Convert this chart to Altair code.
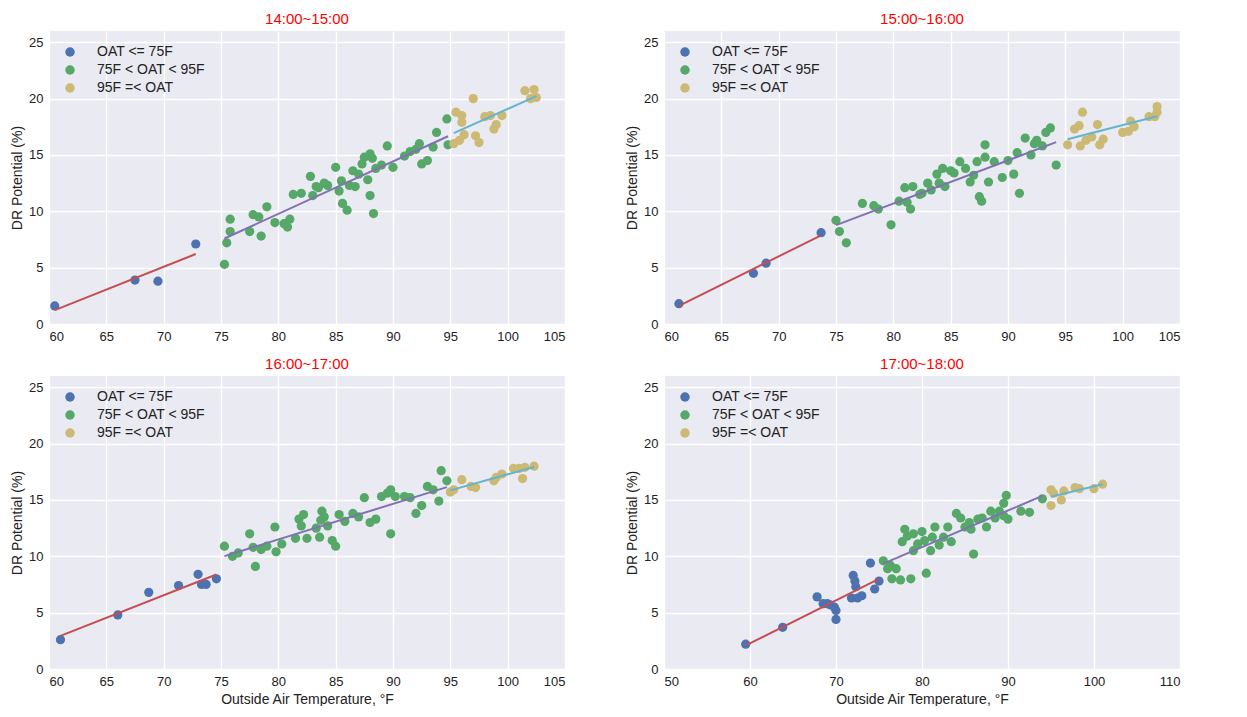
import altair as alt
import pandas as pd

groups = ["OAT <= 75F", "75F < OAT < 95F", "95F =< OAT"]
point_colors = ["#4C72B0", "#55A868", "#CCB974"]
line_colors = ["#C44E52", "#8172B2", "#64B5CD"]

# 14:00~15:00
p1_blue = [(60.5, 1.6), (67.5, 3.9), (69.5, 3.8), (72.8, 7.1)]
p1_green = [(75.3, 5.3), (75.5, 7.2), (75.8, 8.2), (75.8, 9.3), (77.5, 8.2), (77.8, 9.7), (78.3, 9.5), (78.5, 7.8),
            (79, 10.4), (79.7, 9.0), (80.5, 8.9), (80.8, 8.6), (81, 9.3), (81.3, 11.5), (82, 11.6), (82.8, 13.1),
            (83, 11.4), (83.3, 12.2), (83.5, 12.1), (84, 12.5), (84.3, 12.3), (85, 13.9), (85.3, 11.8), (85.5, 12.7),
            (85.6, 10.7), (86, 10.1), (86.2, 12.3), (86.5, 13.6), (86.7, 12.2), (87, 13.3), (87.3, 14.2), (87.5, 14.8),
            (87.8, 12.8), (88, 15.1), (88.2, 14.7), (88, 11.4), (88.3, 9.8), (88.5, 13.8), (89, 14.1), (89.5, 15.8),
            (90, 13.9), (91, 14.9), (91.5, 15.3), (92, 15.5), (92.3, 16.0), (92.5, 14.2), (93, 14.5), (93.5, 15.7),
            (93.8, 17.0), (94.7, 18.2), (94.8, 15.9)]
p1_yellow = [(95.3, 16.0), (95.5, 18.8), (95.8, 16.3), (96, 18.5), (96, 17.9), (96.2, 16.8), (97, 20.0), (97.2, 16.7),
             (97.5, 16.1), (98, 18.4), (98.5, 18.5), (98.8, 17.3), (99, 17.7), (99.5, 18.5), (101.5, 20.7),
             (102, 20.0), (102.3, 20.8), (102.5, 20.1)]

# 15:00~16:00
p2_blue = [(61.3, 1.8), (67.8, 4.5), (68.9, 5.4), (73.7, 8.1)]
p2_green = [(75, 9.2), (75.3, 8.2), (75.9, 7.2), (77.3, 10.7), (78.3, 10.5), (78.7, 10.2), (79.8, 8.8), (80.5, 10.9),
            (81, 12.1), (81.2, 10.8), (81.5, 10.2), (81.7, 12.2), (82.3, 11.5), (82.5, 11.6), (83, 12.5), (83.3, 11.9),
            (83.8, 13.3), (84, 12.5), (84.3, 13.8), (84.5, 12.2), (85, 13.6), (85.3, 13.4), (85.8, 14.4), (86.3, 13.8),
            (86.7, 12.6), (87, 13.2), (87.3, 14.4), (87.5, 11.3), (87.7, 10.9), (88, 14.8), (88, 15.9), (88.3, 12.6),
            (88.8, 14.4), (89.5, 13.0), (90, 14.5), (90.5, 13.3), (90.8, 15.2), (91, 11.6), (91.5, 16.5), (92, 15.0),
            (92.3, 16.0), (92.5, 16.3), (93, 15.8), (93.3, 17.0), (93.7, 17.4), (94.2, 14.1)]
p2_yellow = [(95.2, 15.9), (95.8, 17.3), (96.2, 17.6), (96.5, 18.8), (96.3, 15.8), (96.8, 16.3), (97.3, 16.6),
             (97.8, 17.7), (98, 15.9), (98.3, 16.4), (100, 17.0), (100.5, 17.1), (100.7, 18.0), (101, 17.5),
             (102.3, 18.4), (102.8, 18.4), (103, 19.3), (103, 18.8)]

# 16:00~17:00
p3_blue = [(61, 2.6), (66, 4.8), (68.7, 6.8), (71.3, 7.4), (73, 8.4), (73.3, 7.5), (73.7, 7.5), (74.6, 8.0)]
p3_green = [(75.3, 10.9), (76, 10.0), (76.5, 10.3), (77.5, 12.0), (77.8, 10.8), (78, 9.1), (78.5, 10.6), (79, 10.9),
            (79.7, 12.6), (79.8, 10.4), (80.3, 11.1), (81.5, 11.6), (81.8, 13.3), (82, 12.7), (82.2, 13.7),
            (82.5, 11.6), (83.3, 12.5), (83.6, 11.7), (83.7, 13.2), (83.8, 14.0), (84, 13.5), (84.3, 12.7),
            (84.7, 11.4), (85, 10.9), (85.3, 13.7), (85.8, 13.1), (86.5, 13.8), (87, 13.5), (87.5, 15.2), (88, 13.0),
            (88.5, 13.3), (89, 15.3), (89.5, 15.6), (89.8, 15.9), (89.8, 12.0), (90.2, 15.3), (91, 15.3), (91.5, 15.2),
            (92, 13.8), (92.5, 14.5), (93, 16.2), (93.5, 15.9), (94, 14.9), (94.2, 17.6), (94.7, 16.7)]
p3_yellow = [(95, 15.7), (95.3, 15.9), (96, 16.8), (96.8, 16.2), (97.2, 16.1), (98.8, 16.7), (99, 17.0), (99.5, 17.3),
             (100.5, 17.8), (101, 17.8), (101.3, 16.9), (101.5, 17.9), (102.3, 18.0)]

# 17:00~18:00
p4_blue = [(59.5, 2.2), (63.8, 3.7), (67.8, 6.4), (68.5, 5.8), (69, 5.8), (69.3, 5.7), (69.8, 5.5), (70, 4.4),
           (70, 5.2), (71.8, 6.3), (72, 8.3), (72.2, 7.8), (72.3, 7.3), (72.5, 6.3), (73, 6.5), (74.5, 7.1),
           (75, 7.8), (74, 9.4)]
p4_green = [(75.5, 9.6), (76, 8.9), (76.3, 9.2), (76.5, 8.0), (77, 8.9), (77.5, 7.9), (77.7, 11.3), (78, 12.4),
            (78.3, 11.8), (78.7, 8.0), (79, 12.0), (79, 10.5), (79.5, 11.1), (80, 12.2), (80.3, 11.4), (80.5, 8.5),
            (81, 10.5), (81.2, 11.7), (81.5, 12.6), (82, 11.0), (82.5, 11.7), (83, 12.6), (83.4, 11.3), (84, 13.8),
            (84.5, 13.4), (85, 12.6), (85.5, 13.0), (85.7, 12.4), (86, 10.2), (86.5, 13.3), (87, 13.4), (87.5, 12.6),
            (88, 14.0), (88.5, 13.4), (89, 14.0), (89.5, 13.6), (89.5, 14.7), (89.8, 15.4), (90, 13.3), (91.5, 14.0),
            (92.5, 13.9), (94, 15.1)]
p4_yellow = [(95, 14.5), (95, 15.9), (95.3, 15.6), (96.2, 15.0), (96.5, 15.8), (97.8, 16.1), (98.3, 16.0),
             (100, 16.0), (101, 16.4)]

FONT = "Liberation Sans"
XTITLE = "Outside Air Temperature, °F"


def make_df(blue, green, yellow):
    rows = []
    for g, pts in zip(groups, [blue, green, yellow]):
        for x, y in pts:
            rows.append({"oat": x, "dr": y, "group": g})
    return pd.DataFrame(rows)


def panel(title, df, domain, step, xtitle):
    ticks = list(range(domain[0], domain[1] + 1, step))
    x = alt.X("oat:Q", scale=alt.Scale(domain=domain, nice=False),
              axis=alt.Axis(values=ticks, title=xtitle))
    y = alt.Y("dr:Q", scale=alt.Scale(domain=[0, 25]),
              axis=alt.Axis(values=[0, 5, 10, 15, 20, 25], title="DR Potential (%)"))
    base = alt.Chart(df)
    pts = base.mark_circle(size=85, opacity=1).encode(
        x=x, y=y,
        color=alt.Color("group:N", scale=alt.Scale(domain=groups, range=point_colors),
                        legend=alt.Legend(title=None, orient="top-left", labelFontSize=14,
                                          symbolSize=90, symbolOpacity=1, labelFont=FONT,
                                          labelColor="#222", rowPadding=4, offset=14, labelOffset=20)),
    )
    lines = base.transform_regression("oat", "dr", groupby=["group"]).transform_calculate(
        lc=f"datum.group === '{groups[0]}' ? '{line_colors[0]}' : datum.group === '{groups[1]}' ? '{line_colors[1]}' : '{line_colors[2]}'"
    ).mark_line(strokeWidth=2).encode(x="oat:Q", y="dr:Q", detail="group:N", color=alt.Color("lc:N", scale=None))
    return alt.layer(pts, lines).properties(
        width=516, height=293,
        title=alt.TitleParams(title, color="red", fontSize=15, font=FONT, fontWeight="normal", offset=4),
    ).resolve_scale(color="independent")


c1 = panel("14:00~15:00", make_df(p1_blue, p1_green, p1_yellow), [60, 105], 5, "")
c2 = panel("15:00~16:00", make_df(p2_blue, p2_green, p2_yellow), [60, 105], 5, "")
c3 = panel("16:00~17:00", make_df(p3_blue, p3_green, p3_yellow), [60, 105], 5, XTITLE)
c4 = panel("17:00~18:00", make_df(p4_blue, p4_green, p4_yellow), [50, 110], 10, XTITLE)

chart = alt.vconcat(
    alt.hconcat(c1, c2, spacing=60),
    alt.hconcat(c3, c4, spacing=60),
    spacing=14,
).resolve_scale(color="independent").configure(
    padding={"left": 2, "top": 4, "right": 2, "bottom": 0}
).configure_view(
    fill="#EAEAF2", stroke=None
).configure_axis(
    grid=True, gridColor="white", gridWidth=1.3, domain=False, ticks=False,
    labelFont=FONT, titleFont=FONT, labelFontSize=13, titleFontSize=14, titleFontWeight="normal",
    labelColor="#222", titleColor="#222", labelPadding=6,
)

chart.save("out.html", embed_options={"renderer": "svg", "actions": False})
